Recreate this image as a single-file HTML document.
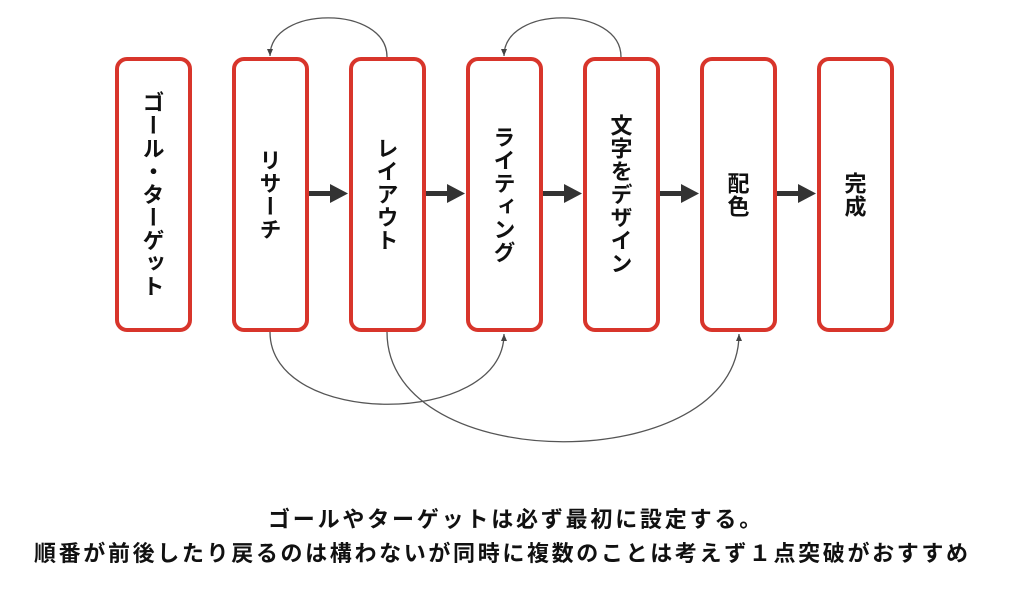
<!DOCTYPE html>
<html><head><meta charset="utf-8">
<style>
html,body{margin:0;padding:0;background:#fff;}
body{width:1024px;height:591px;position:relative;overflow:hidden;font-family:"Liberation Sans","Noto Sans CJK JP",sans-serif;}
svg{position:absolute;left:0;top:0;}
.bx{position:absolute;top:59px;width:73px;height:271px;display:flex;align-items:center;justify-content:center;}
.bx span{writing-mode:vertical-rl;font-family:"Noto Sans CJK JP",sans-serif;font-weight:bold;font-size:22px;letter-spacing:1px;color:#111;line-height:1;}
.cap{position:absolute;font-family:"Noto Sans CJK JP",sans-serif;font-weight:bold;font-size:22px;color:#111;line-height:1;white-space:nowrap;}
</style></head><body>
<svg width="1024" height="591" viewBox="0 0 1024 591">
  <defs>
    <marker id="sm" markerWidth="8" markerHeight="8" refX="7" refY="4" orient="auto" markerUnits="userSpaceOnUse">
      <path d="M0,1 L7,4 L0,7 Z" fill="#444"/>
    </marker>
  </defs>
  <g fill="none" stroke="#d8352b" stroke-width="4">
    <rect x="117" y="59" width="73" height="271" rx="10"/>
    <rect x="234" y="59" width="73" height="271" rx="10"/>
    <rect x="351" y="59" width="73" height="271" rx="10"/>
    <rect x="468" y="59" width="73" height="271" rx="10"/>
    <rect x="585" y="59" width="73" height="271" rx="10"/>
    <rect x="702" y="59" width="73" height="271" rx="10"/>
    <rect x="819" y="59" width="73" height="271" rx="10"/>
  </g>
  <g fill="#333" stroke="none">
    <rect x="309" y="191" width="25" height="5"/><path d="M330,184 L348,193.5 L330,203 Z"/>
    <rect x="426" y="191" width="25" height="5"/><path d="M447,184 L465,193.5 L447,203 Z"/>
    <rect x="543" y="191" width="25" height="5"/><path d="M564,184 L582,193.5 L564,203 Z"/>
    <rect x="660" y="191" width="25" height="5"/><path d="M681,184 L699,193.5 L681,203 Z"/>
    <rect x="777" y="191" width="25" height="5"/><path d="M798,184 L816,193.5 L798,203 Z"/>
  </g>
  <g fill="none" stroke="#555" stroke-width="1.3">
    <path d="M387,57 C387,5 270,5 270,56" marker-end="url(#sm)"/>
    <path d="M621,57 C621,5 504,5 504,56" marker-end="url(#sm)"/>
    <path d="M270,332 C270,428 504,428 504,334" marker-end="url(#sm)"/>
    <path d="M387,332 C387,478 739,478 739,334" marker-end="url(#sm)"/>
  </g>
</svg>
<div class="bx" style="left:117px"><span>ゴール・ターゲット</span></div>
<div class="bx" style="left:234px"><span>リサーチ</span></div>
<div class="bx" style="left:351px"><span>レイアウト</span></div>
<div class="bx" style="left:468px"><span>ライティング</span></div>
<div class="bx" style="left:585px"><span>文字をデザイン</span></div>
<div class="bx" style="left:702px"><span>配色</span></div>
<div class="bx" style="left:819px"><span>完成</span></div>
<div class="cap" style="top:507px;left:268px;letter-spacing:2.8px">ゴールやターゲットは必ず最初に設定する。</div>
<div class="cap" style="top:541px;left:34px;letter-spacing:2.65px">順番が前後したり戻るのは構わないが同時に複数のことは考えず１点突破がおすすめ</div>
</body></html>
